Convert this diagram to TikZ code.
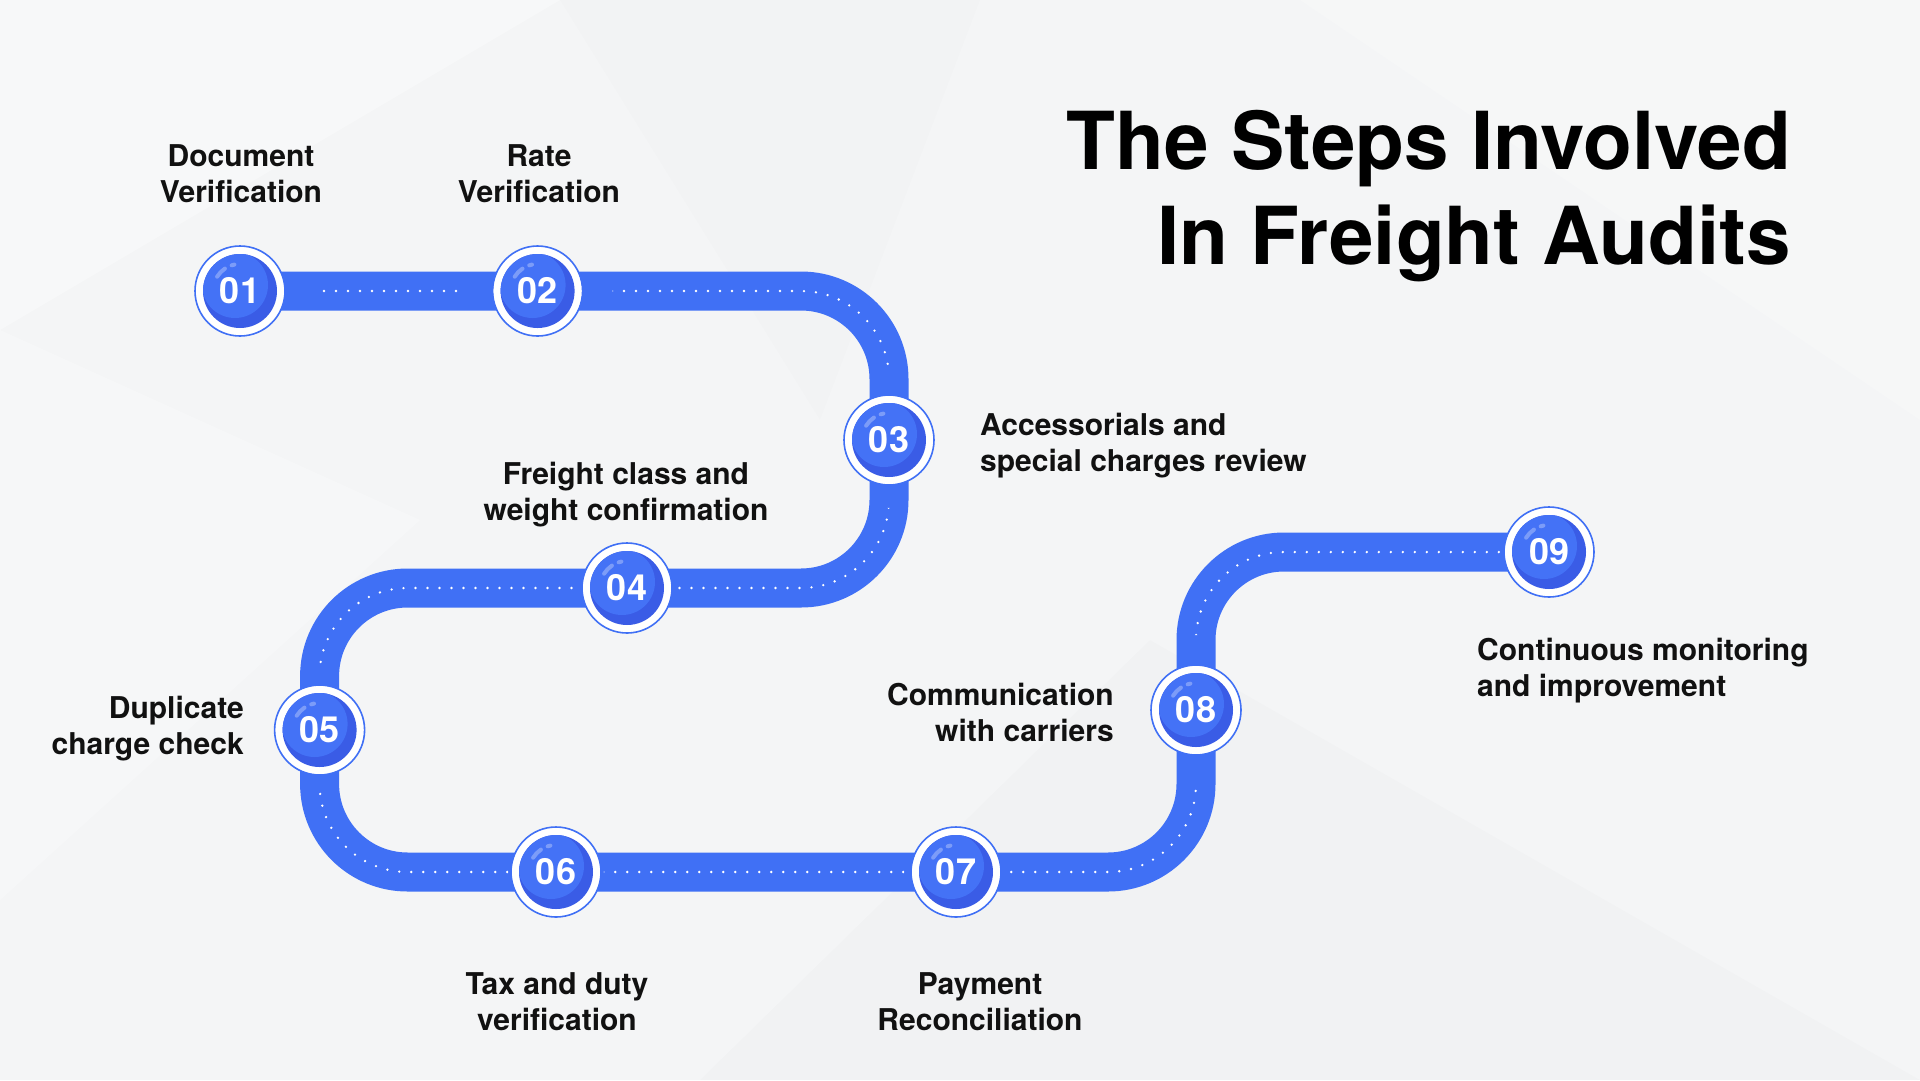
\documentclass[tikz,border=0pt]{standalone}
\usepackage{fontspec}
\setmainfont{TeX Gyre Heros}
\definecolor{track}{RGB}{64,112,245}
\definecolor{diskdark}{RGB}{58,92,230}
\definecolor{disklight}{RGB}{68,114,246}
\definecolor{bg}{RGB}{244,245,246}
\definecolor{ink}{RGB}{17,17,17}
\tikzset{
  lbl/.style={font=\fontsize{30}{36}\selectfont\bfseries, text=ink, inner sep=0pt},
  titletxt/.style={font=\fontsize{80}{95}\selectfont\bfseries, text=black, inner sep=0pt, align=right},
  numtxt/.style={font=\fontsize{36}{36}\selectfont\bfseries, text=white, inner sep=0pt},
  trackline/.style={draw=track, line width=39pt, rounded corners=88pt},
  dotline/.style={draw=white, line width=2.6pt, line cap=round, dash pattern=on 0pt off 12pt, rounded corners=88pt},
  shine/.style={draw=white, opacity=0.3, line width=4pt, line cap=round}
}
\begin{document}
\begin{tikzpicture}[x=1pt,y=-1pt]
\useasboundingbox (0,0) rectangle (1920,1080);
\fill[bg] (0,0) rectangle (1920,1080);
% faint background facets
\fill[white, opacity=0.35] (0,0) -- (560,0) -- (0,330) -- cycle;
\fill[white, opacity=0.25] (0,330) -- (420,520) -- (0,900) -- cycle;
\fill[black, opacity=0.01] (700,1080) -- (1150,640) -- (1920,1080) -- cycle;
\fill[white, opacity=0.2] (1300,0) -- (1920,0) -- (1920,420) -- cycle;
\fill[black, opacity=0.008] (560,0) -- (980,0) -- (820,420) -- cycle;

% coordinates of the steps
\coordinate (c01) at (240,291);
\coordinate (c02) at (537.6,291);
\coordinate (c03) at (889,440);
\coordinate (c04) at (627,588);
\coordinate (c05) at (319.6,730);
\coordinate (c06) at (556,872);
\coordinate (c07) at (956,872);
\coordinate (c08) at (1196,710);
\coordinate (c09) at (1549,552);

% track
\path[trackline] (c01) -- (889,291) -- (889,588) -- (319.6,588) -- (319.6,872) -- (1196,872) -- (1196,552) -- (c09);
\begin{scope}[even odd rule]
\clip (0,0) rectangle (1920,1080)
  (c01) circle (75) (c02) circle (75) (c03) circle (68) (c04) circle (51) (c05) circle (58)
  (c06) circle (48) (c07) circle (52) (c08) circle (75) (c09) circle (48);
\path[dotline] (c01) -- (889,291) -- (889,588) -- (319.6,588) -- (319.6,872) -- (1196,872) -- (1196,552) -- (c09);
\end{scope}

% step circles
\foreach \n in {01,02,03,04,05,06,07,08,09}{
  \begin{scope}[shift={(c\n)}]
    \fill[white] (0,0) circle (44.5);
    \draw[track, line width=1.6pt] (0,0) circle (45);
    \fill[diskdark] (0,0) circle (37);
    \begin{scope}
      \clip (0,0) circle (37);
      \fill[disklight] (-5,-6) circle (33);
    \end{scope}
    \draw[shine] (212:27) arc[start angle=212, end angle=236, radius=27];
    \draw[shine] (252:27) arc[start angle=252, end angle=258, radius=27];
  \end{scope}
  \node[numtxt] (s\n) at (c\n) {\n};
}

% labels
\node[lbl, align=center] (t01) at (241,174) {Document\\Verification};
\node[lbl, align=center] (t02) at (539,174) {Rate\\Verification};
\node[lbl, align=left, anchor=west] (t03) at (980,446) {Accessorials and\\special charges review};
\node[lbl, align=center] (t04) at (626,495) {Freight class and\\weight confirmation};
\node[lbl, align=right, anchor=east] (t05) at (244,729) {Duplicate\\charge check};
\node[lbl, align=center] (t06) at (557,1002) {Tax and duty\\verification};
\node[lbl, align=center] (t07) at (980,1002) {Payment\\Reconciliation};
\node[lbl, align=right, anchor=east] (t08) at (1114,712) {Communication\\with carriers};
\node[lbl, align=left, anchor=west] (t09) at (1477,671) {Continuous monitoring\\and improvement};

% title
\node[titletxt, anchor=east] (title) at (1791,196) {The Steps Involved\\In Freight Audits};
\end{tikzpicture}
\end{document}
